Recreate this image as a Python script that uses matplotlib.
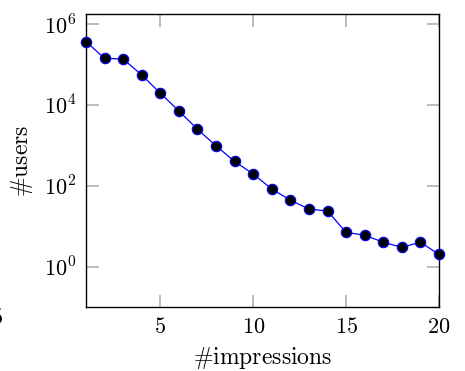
import matplotlib
matplotlib.use("Agg")
import matplotlib.pyplot as plt
from matplotlib.ticker import FixedLocator, FixedFormatter, NullLocator

plt.rcParams['mathtext.fontset'] = 'cm'

impressions = list(range(1, 21))
users = [3.7e5, 1.42e5, 1.37e5, 5.5e4, 1.95e4, 7.1e3, 2.5e3, 970, 400, 195,
         83, 44, 26.5, 23.7, 7.0, 6.0, 4.0, 3.0, 4.0, 2.0]
xtick_vals = [5, 10, 15, 20]
ytick_exps = [0, 2, 4, 6]

W, H = 465, 371
fig = plt.figure(figsize=(W / 100, H / 100), dpi=100)
ax = fig.add_axes([86 / W, 1 - 307 / H, (439 - 86) / W, (307 - 14) / H])

ax.plot(impressions, users, color='blue', lw=0.9, marker='o', ms=7.5,
        markerfacecolor='black', markeredgecolor='blue', markeredgewidth=0.8,
        clip_on=False, zorder=3)

ax.set_yscale('log')
ax.set_xlim(1, 20)
ax.set_ylim(10 ** -1, 10 ** 6.25)

ax.xaxis.set_major_locator(FixedLocator(xtick_vals))
ax.xaxis.set_major_formatter(FixedFormatter([r'$%d$' % v for v in xtick_vals]))
ax.xaxis.set_minor_locator(NullLocator())
ax.yaxis.set_major_locator(FixedLocator([10.0 ** e for e in ytick_exps]))
ax.yaxis.set_major_formatter(FixedFormatter([r'$10^{%d}$' % e for e in ytick_exps]))
ax.yaxis.set_minor_locator(NullLocator())

ax.tick_params(which='major', direction='in', length=9, width=1.2,
               color='#b0b0b0', labelsize=16, top=True, right=True, pad=7)
for s in ax.spines.values():
    s.set_linewidth(1.0)
    s.set_color('black')

ax.set_xlabel(r'$\#\mathrm{impressions}$', fontsize=17, labelpad=6)
ax.set_ylabel(r'$\#\mathrm{users}$', fontsize=17, labelpad=6)

# stray fragment of a neighbouring panel's tick label at left edge
fig.text(-9 / W, 1 - 318 / H, r'$5$', fontsize=16, ha='left', va='center')

fig.savefig('out.png', dpi=100)
